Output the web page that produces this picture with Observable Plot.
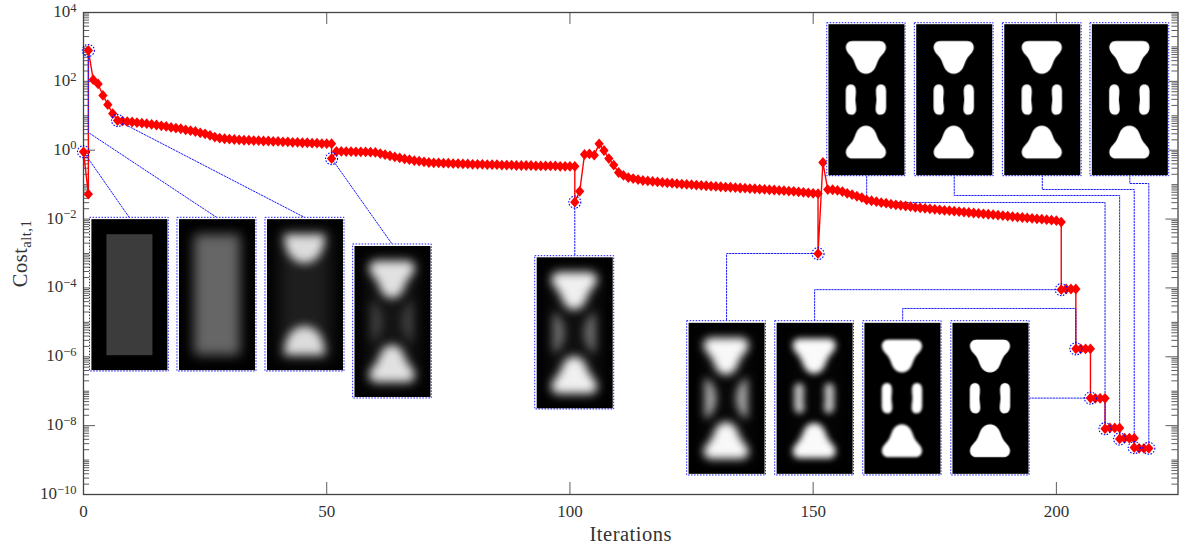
<!DOCTYPE html>
<html>
<head>
<meta charset="utf-8">
<script src="https://cdn.jsdelivr.net/npm/d3@7"></script>
<script src="https://cdn.jsdelivr.net/npm/@observablehq/plot@0.6"></script>
<style>
html,body{margin:0;padding:0;background:#fff}
svg{display:block}
</style>
</head>
<body>
<div id="chart"></div>
<script>
// Cost values, one array per optimisation stage; each stage starts at the iteration in stageStarts.
const stageStarts = [0, 1, 51, 101, 151, 201, 204, 207, 210, 213, 216];
const stage0 = [0.9, 0.053];
const stage1 = [790,112,84,39,21,11.6,7.3,
  7.0,6.8,6.6,6.3,6.1,5.9,5.6,5.4,5.1,4.9,4.6,4.4,4.2,3.9,3.7,3.5,3.2,3.0,2.7,2.4,
  2.25,2.15,2.1,2.05,2.0,1.95,1.95,1.9,1.9,1.85,1.85,1.8,1.8,1.75,1.75,1.7,1.7,1.65,1.65,1.6,1.6,1.55,1.55,1.55];
const stage2 = [0.57,0.92,0.92,0.91,0.91,0.9,0.9,0.89,0.88,0.86,
  0.8,0.74,0.69,0.64,0.6,0.56,0.53,0.5,0.48,0.46,0.44,
  0.43,0.43,0.42,0.42,0.41,0.41,0.4,0.4,0.39,0.39,0.39,0.38,0.38,0.38,0.37,0.37,0.37,0.36,0.36,0.36,0.36,0.35,0.35,0.35,0.35,0.35,0.34,0.34,0.34,0.34];
const stage3 = [0.031,0.064,0.75,0.78,0.72,1.53,0.98,0.57,0.37,0.225,0.185,0.16,0.15,0.14,0.132,
  0.128,0.124,0.12,0.116,0.113,0.11,0.107,0.104,0.102,0.1,0.097,0.095,0.093,0.091,0.089,0.087,0.085,0.084,0.082,0.08,
  0.079,0.077,0.076,0.074,0.073,0.071,0.07,0.068,0.067,0.065,0.064,0.062,0.06,0.058,0.056,0.055];
const stage4 = [0.00099,0.44,0.072,0.071,0.068,0.063,0.056,0.051,0.046,0.042,0.036,
  0.034,0.032,0.03,0.029,0.027,0.026,0.025,0.024,0.023,0.022,
  0.0212,0.0205,0.0198,0.0192,0.0186,0.018,0.0175,0.017,0.0165,0.016,
  0.0155,0.015,0.0146,0.0142,0.0138,0.0134,0.013,0.0126,0.0122,0.0118,
  0.0114,0.0111,0.0108,0.0105,0.0102,0.0099,0.0096,0.0093,0.009,0.0082];
const stage5 = [8.9e-5,9.3e-5,9.3e-5,9.3e-5];
const stage6 = [1.7e-6,1.7e-6,1.7e-6,1.7e-6];
const stage7 = [6.3e-8,6.2e-8,6.2e-8,6.2e-8];
const stage8 = [8.1e-9,8.6e-9,8.6e-9,8.6e-9];
const stage9 = [4.1e-9,4.3e-9,4.3e-9,4.3e-9];
const stage10 = [2.3e-9,2.2e-9,2.2e-9,2.2e-9];
const stages = [stage0,stage1,stage2,stage3,stage4,stage5,stage6,stage7,stage8,stage9,stage10];

// Iterations and cost of the circled points
const circledIter = [0,1,7,51,101,151,201,204,207,210,213,216,219];
const circledCost = [0.9,790,7.3,0.57,0.031,0.00099,8.9e-5,1.7e-6,6.3e-8,8.1e-9,4.1e-9,2.3e-9,2.2e-9];

// Thumbnail extents in data units (iterations, log10 cost)
const thumbX1 = [1.34,19.32,37.41,55.44,92.86,124.1,142.2,160.3,178.4,152.9,170.9,189.0,207.0];
const thumbX2 = [17.53,35.56,53.65,71.60,109.1,140.3,158.4,176.4,194.5,169.0,187.1,205.2,223.2];
const thumbTop = [-1.963,-1.963,-1.963,-2.738,-3.078,-4.966,-4.966,-4.966,-4.966,3.689,3.689,3.689,3.689];
const thumbBottom = [-6.427,-6.427,-6.427,-7.211,-7.53,-9.447,-9.447,-9.447,-9.447,-0.755,-0.755,-0.755,-0.755];
// Thumbnail appearance
const thumbShape = ["rect","rect","dome","tri","tri","tri","tri","tri","tri","tri","tri","tri","tri"];
const thumbSide = ["none","none","none","crescent","crescent","crescent","bar","bar","bar","bar","bar","bar","bar"];
const thumbBlur = [0,6,5,5,5,4,3,1,0.7,0.6,0.6,0.6,0.6];
const thumbLevel = [60,102,190,205,225,240,245,255,255,255,255,255,255];
const thumbSideLevel = [0,0,0,45,100,165,185,255,255,255,255,255,255];
const thumbHaze = [0,0,30,20,15,8,5,0,0,0,0,0,0];
const thumbGrow = [1,1,1,1.14,1.14,1.12,1.07,1,1,1,1,1,1];

// Connector polylines [iteration, log10 cost]
const connectors = [
  [[0,-0.045],[9.46,-1.963]],
  [[1,2.9],[1,0.515],[27.5,-1.963]],
  [[7,0.86],[45.6,-1.963]],
  [[51,-0.24],[63.5,-2.738]],
  [[101,-1.51],[101,-3.078]],
  [[151,-3.0],[132.2,-3.0],[132.2,-4.966]],
  [[201,-4.05],[150.3,-4.05],[150.3,-4.966]],
  [[204,-5.77],[204,-4.597],[168.4,-4.597],[168.4,-4.966]],
  [[207,-7.2],[194.5,-7.2]],
  [[210,-8.09],[210,-1.518],[161,-1.518],[161,-0.755]],
  [[213,-8.39],[213,-1.315],[179,-1.315],[179,-0.755]],
  [[216,-8.64],[216,-1.141],[197.1,-1.141],[197.1,-0.755]],
  [[219,-8.66],[219,-0.967],[215.1,-0.967],[215.1,-0.755]]
];

const xTickValues = [0,50,100,150,200];
const yExponents = [4,2,0,-2,-4,-6,-8,-10];
const xLabel = "Iterations";
const yLabelBase = "Cost";
const yLabelSub = "alt,1";

// Build tables
const series = [];
stages.forEach((vals, s) => vals.forEach((v, i) => series.push({iter: stageStarts[s] + i, cost: v})));
const circled = circledIter.map((x, i) => ({iter: x, cost: circledCost[i]}));
const connectorRows = connectors.flatMap((pts, id) => pts.map(([x, l]) => ({id, x, y: 10 ** l})));

const W = 76, H = 151;
const triPath = "M24,16.7 L51,16.7 C55.5,16.7 58,20 57.5,24 C57,28 53,31 51,34 C49,37 48.5,40 47,43 C45,47 42,49.5 37.5,49.5 C33,49.5 30,47 28,43 C26.5,40 26,37 24,34 C22,31 18,28 17.5,24 C17,20 19.5,16.7 24,16.7 Z";
const domePath = "M17,15 L58,15 C58,35 48,44 37.5,44 C27,44 17,35 17,15 Z";
const crescentPath = "M27.5,75.5 C27.5,65 22,57 16,55 L16,96 C22,94 27.5,86 27.5,75.5 Z";
const barPath = "M22.5,60.3 C26,60.3 27.5,63 27.5,67 C27.5,71 27,73 27,75.5 C27,78 27.8,81 27.8,85 C27.8,88.5 26,90.5 23,90.5 C19,90.5 17.3,87 17.3,83 L17.3,67 C17.3,63 19,60.3 22.5,60.3 Z";

function mirrored(ctx, path, flipX, flipY, grow = 1) {
  ctx.save();
  if (flipX) { ctx.translate(W - 1, 0); ctx.scale(-1, 1); }
  if (flipY) { ctx.translate(0, H); ctx.scale(1, -1); }
  if (grow !== 1) { ctx.translate(37.5, 31); ctx.scale(grow, grow); ctx.translate(-37.5, -31); }
  ctx.fill(new Path2D(path));
  ctx.restore();
}
function grey(l) { return `rgb(${l},${l},${l})`; }
function thumbnail(i) {
  const c = document.createElement("canvas");
  c.width = W; c.height = H;
  const ctx = c.getContext("2d");
  ctx.fillStyle = "#000";
  ctx.fillRect(0, 0, W, H);
  ctx.globalCompositeOperation = "lighter";
  if (thumbHaze[i]) {
    ctx.filter = "blur(8px)";
    ctx.fillStyle = grey(thumbHaze[i]);
    ctx.fillRect(12, 10, 52, 131);
  }
  ctx.filter = thumbBlur[i] ? `blur(${thumbBlur[i]}px)` : "none";
  ctx.fillStyle = grey(thumbLevel[i]);
  if (thumbShape[i] === "rect") ctx.fillRect(15, 15, 46, 121);
  else {
    const p = thumbShape[i] === "dome" ? domePath : triPath;
    mirrored(ctx, p, false, false, thumbGrow[i]);
    mirrored(ctx, p, false, true, thumbGrow[i]);
  }
  if (thumbSide[i] !== "none") {
    ctx.fillStyle = grey(thumbSideLevel[i]);
    const p = thumbSide[i] === "bar" ? barPath : crescentPath;
    mirrored(ctx, p, false, false);
    mirrored(ctx, p, true, false);
  }
  return c.toDataURL();
}
const thumbs = thumbX1.map((x1, i) => ({
  x1, x2: thumbX2[i],
  y1: 10 ** thumbBottom[i], y2: 10 ** thumbTop[i],
  cx: (x1 + thumbX2[i]) / 2,
  cy: 10 ** ((thumbBottom[i] + thumbTop[i]) / 2),
  src: thumbnail(i)
}));

// Ticks
const yTicks = yExponents.map(e => 10 ** e);
const yMajor = d3.range(-10, 5, 1).filter(e => e % 2 === 0).map(e => 10 ** e);
const yMinor = d3.range(-10, 4).flatMap(e => [1,2,3,4,5,6,7,8,9].map(m => m * 10 ** e).filter((v, k) => !(k === 0 && e % 2 === 0)));
const XMAX = 225, majorX = 2.47, minorX = 1.25, majorY = 10 ** (12 / 34.43);

const diamond = {
  draw(ctx, size) {
    const r = Math.sqrt(size / Math.PI);
    const w = r * 0.86;
    ctx.moveTo(0, -r); ctx.lineTo(w, 0); ctx.lineTo(0, r); ctx.lineTo(-w, 0); ctx.closePath();
  }
};

const tickStyle = {stroke: "#333", strokeWidth: 0.8};
const dotted = {stroke: "#1a1aff", strokeWidth: 1, strokeDasharray: "1.5,1.5"};
const plot = Plot.plot({
  width: 1179, height: 549,
  marginLeft: 83, marginRight: 1.5, marginTop: 12, marginBottom: 55,
  style: {fontFamily: "'Liberation Serif', serif", fontSize: "17px", color: "#333", background: "#fff"},
  x: {domain: [0, XMAX], axis: null},
  y: {type: "log", domain: [1e-10, 1e4], axis: null},
  marks: [
    Plot.ruleY(yMinor, {x1: 0, x2: minorX, ...tickStyle}),
    Plot.ruleY(yMinor, {x1: XMAX - minorX, x2: XMAX, ...tickStyle}),
    Plot.ruleY(yMajor, {x1: 0, x2: majorX, ...tickStyle}),
    Plot.ruleY(yMajor, {x1: XMAX - majorX, x2: XMAX, ...tickStyle}),
    Plot.ruleX(xTickValues, {y1: 1e-10, y2: 1e-10 * majorY, ...tickStyle}),
    Plot.ruleX(xTickValues, {y1: 1e4 / majorY, y2: 1e4, ...tickStyle}),
    Plot.frame({stroke: "#444", strokeWidth: 1.3}),
    Plot.line(series, {x: "iter", y: "cost", stroke: "#f00", strokeWidth: 1.4, curve: "linear"}),
    Plot.line(connectorRows, {x: "x", y: "y", z: "id", curve: "linear", ...dotted}),
    Plot.dot(series, {x: "iter", y: "cost", r: 5.4, symbol: diamond, fill: "#f00", stroke: "none"}),
    Plot.dot(circled, {x: "iter", y: "cost", r: 6, fill: "none", stroke: "#00f", strokeWidth: 1.1, strokeDasharray: "1.5,1.5"}),
    Plot.rect(thumbs, {x1: "x1", x2: "x2", y1: "y1", y2: "y2", fill: "#fff", ...dotted}),
    Plot.image(thumbs, {x: "cx", y: "cy", src: "src", width: W, height: H, preserveAspectRatio: "none"}),
    Plot.axisX(xTickValues, {anchor: "bottom", tickSize: 0, tickPadding: 10, label: null, fontSize: 17, tickFormat: d => String(d)}),
    Plot.axisY(yTicks, {anchor: "left", tickSize: 0, tickPadding: 7, label: null, fontSize: 17, dy: -1, tickFormat: () => "10"}),
    Plot.text([xLabel], {frameAnchor: "bottom", dy: 46, fontSize: 20.5, text: d => d}),
    Plot.text([yLabelBase], {frameAnchor: "left", dx: -63.5, rotate: -90, textAnchor: "middle", fontSize: 20.5, text: d => d})
  ]
});

// Exponents and the subscript are real tspans on the axis texts.
const sel = d3.select(plot);
sel.selectAll("g[aria-label='y-axis tick label'] text").each(function (_, i) {
  d3.select(this).append("tspan")
    .attr("dy", "-0.42em").attr("font-size", 12.5)
    .text(String(yExponents[i]).replace("-", "\u2212"));
});
sel.selectAll("text").filter(function () { return this.textContent === xLabel; })
  .attr("letter-spacing", 0.5);
sel.selectAll("text").filter(function () { return this.textContent === yLabelBase; })
  .attr("letter-spacing", 0.5)
  .append("tspan").attr("dy", "0.3em").attr("font-size", 14.5).text(yLabelSub);

document.getElementById("chart").appendChild(plot);
</script>
</body>
</html>
